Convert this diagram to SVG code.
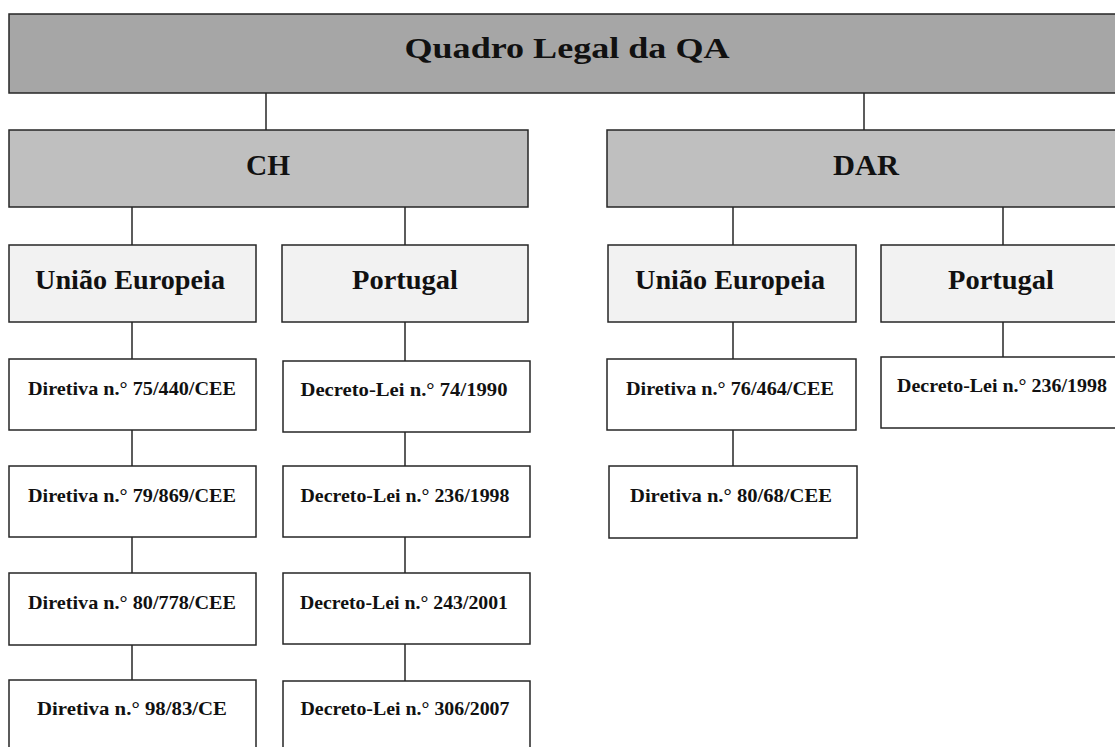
<svg xmlns="http://www.w3.org/2000/svg" width="1115" height="747" viewBox="0 0 1115 747">
<style>
.box{stroke:#262626;stroke-width:1.5}
.l1{fill:#a6a6a6}
.l2{fill:#bfbfbf}
.l3{fill:#f2f2f2}
.l4{fill:#ffffff}
text{font-family:"Liberation Serif","Times New Roman",serif;font-weight:bold;fill:#111;text-anchor:middle}
.t1{font-size:30px}
.t2{font-size:29px}
.t3{font-size:27px}
.t4{font-size:19.5px}
.conn line{stroke:#262626;stroke-width:1.5}
</style>
<rect width="1115" height="747" fill="#ffffff"/>
<g class="conn" id="connectors">
<line x1="266" y1="93" x2="266" y2="130"/>
<line x1="864" y1="93" x2="864" y2="130"/>
<line x1="132" y1="207" x2="132" y2="245"/>
<line x1="405" y1="207" x2="405" y2="245"/>
<line x1="733" y1="207" x2="733" y2="245"/>
<line x1="1003" y1="207" x2="1003" y2="245"/>
<line x1="132" y1="322" x2="132" y2="359"/>
<line x1="405" y1="322" x2="405" y2="361"/>
<line x1="733" y1="322" x2="733" y2="359"/>
<line x1="1003" y1="322" x2="1003" y2="357"/>
<line x1="132" y1="430" x2="132" y2="466"/>
<line x1="132" y1="537" x2="132" y2="573"/>
<line x1="132" y1="645" x2="132" y2="680"/>
<line x1="405" y1="432" x2="405" y2="466"/>
<line x1="405" y1="537" x2="405" y2="573"/>
<line x1="405" y1="644" x2="405" y2="681"/>
<line x1="733" y1="430" x2="733" y2="466"/>
</g>
<g id="root"><rect class="box l1" x="9" y="14" width="1120" height="79"/><text class="t1" x="567" y="58" textLength="325" lengthAdjust="spacingAndGlyphs">Quadro Legal da QA</text></g>
<g id="ch"><rect class="box l2" x="9" y="130" width="519" height="77"/><text class="t2" x="268" y="175" textLength="44" lengthAdjust="spacingAndGlyphs">CH</text></g>
<g id="dar"><rect class="box l2" x="607" y="130" width="520" height="77"/><text class="t2" x="866" y="175" textLength="66" lengthAdjust="spacingAndGlyphs">DAR</text></g>
<g id="ch-ue"><rect class="box l3" x="9" y="245" width="247" height="77"/><text class="t3" x="130" y="289" textLength="190" lengthAdjust="spacingAndGlyphs">União Europeia</text></g>
<g id="ch-pt"><rect class="box l3" x="282" y="245" width="246" height="77"/><text class="t3" x="405" y="289" textLength="106" lengthAdjust="spacingAndGlyphs">Portugal</text></g>
<g id="dar-ue"><rect class="box l3" x="608" y="245" width="248" height="77"/><text class="t3" x="730" y="289" textLength="190" lengthAdjust="spacingAndGlyphs">União Europeia</text></g>
<g id="dar-pt"><rect class="box l3" x="881" y="245" width="250" height="77"/><text class="t3" x="1001" y="289" textLength="106" lengthAdjust="spacingAndGlyphs">Portugal</text></g>
<g id="d75"><rect class="box l4" x="9" y="359" width="247" height="71"/><text class="t4" x="132" y="395" textLength="208" lengthAdjust="spacingAndGlyphs">Diretiva n.° 75/440/CEE</text></g>
<g id="d79"><rect class="box l4" x="9" y="466" width="247" height="71"/><text class="t4" x="132" y="502" textLength="208" lengthAdjust="spacingAndGlyphs">Diretiva n.° 79/869/CEE</text></g>
<g id="d80"><rect class="box l4" x="9" y="573" width="247" height="72"/><text class="t4" x="132" y="609" textLength="208" lengthAdjust="spacingAndGlyphs">Diretiva n.° 80/778/CEE</text></g>
<g id="d98"><rect class="box l4" x="9" y="680" width="247" height="80"/><text class="t4" x="132" y="715" textLength="190" lengthAdjust="spacingAndGlyphs">Diretiva n.° 98/83/CE</text></g>
<g id="dl74"><rect class="box l4" x="283" y="361" width="247" height="71"/><text class="t4" x="404" y="396" textLength="207" lengthAdjust="spacingAndGlyphs">Decreto-Lei n.° 74/1990</text></g>
<g id="dl236"><rect class="box l4" x="283" y="466" width="247" height="71"/><text class="t4" x="405" y="502" textLength="209" lengthAdjust="spacingAndGlyphs">Decreto-Lei n.° 236/1998</text></g>
<g id="dl243"><rect class="box l4" x="283" y="573" width="247" height="71"/><text class="t4" x="404" y="609" textLength="208" lengthAdjust="spacingAndGlyphs">Decreto-Lei n.° 243/2001</text></g>
<g id="dl306"><rect class="box l4" x="283" y="681" width="247" height="80"/><text class="t4" x="405" y="715" textLength="209" lengthAdjust="spacingAndGlyphs">Decreto-Lei n.° 306/2007</text></g>
<g id="d76"><rect class="box l4" x="607" y="359" width="249" height="71"/><text class="t4" x="730" y="395" textLength="208" lengthAdjust="spacingAndGlyphs">Diretiva n.° 76/464/CEE</text></g>
<g id="d80-68"><rect class="box l4" x="609" y="466" width="248" height="72"/><text class="t4" x="731" y="502" textLength="202" lengthAdjust="spacingAndGlyphs">Diretiva n.° 80/68/CEE</text></g>
<g id="dar-dl236"><rect class="box l4" x="881" y="357" width="250" height="71"/><text class="t4" x="1002" y="392" textLength="210" lengthAdjust="spacingAndGlyphs">Decreto-Lei n.° 236/1998</text></g>
</svg>
